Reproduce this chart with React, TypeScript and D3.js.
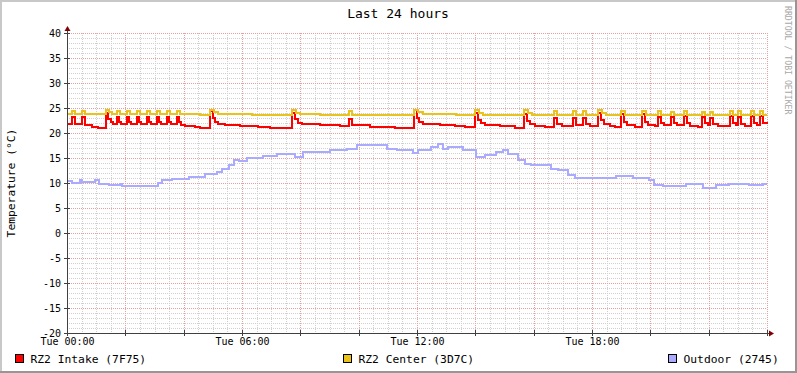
import React, { useEffect, useRef } from "react";
import * as d3 from "d3";

// step breakpoints: [minutes since Tue 00:00, °C]
const intake: [number, number][] = [
  [0, 21.8], [10, 23.2], [16, 21.8], [31, 23.2], [37, 21.6], [51, 21.3], [64, 21.1], [76, 21.0],
  [80, 24.0], [84, 22.8], [91, 22.2], [95, 21.9],
  [103, 23.2], [107, 22.2], [111, 21.8], [123, 23.2], [127, 22.2], [131, 21.8],
  [144, 23.2], [148, 22.2], [152, 21.8], [165, 23.2], [169, 22.2], [173, 21.8],
  [185, 23.2], [189, 22.2], [193, 21.8], [206, 23.2], [210, 22.2], [214, 21.8],
  [226, 23.2], [230, 22.2], [234, 21.6], [243, 21.4], [263, 21.2], [274, 21.0],
  [294, 24.4], [300, 23.0], [304, 22.2], [311, 21.8], [325, 21.6], [356, 21.4], [393, 21.2], [418, 21.0],
  [463, 24.0], [469, 22.8], [475, 22.0], [483, 21.8], [520, 21.6], [562, 21.4],
  [580, 22.8], [586, 21.6], [623, 21.3], [675, 21.1], [695, 21.0],
  [714, 24.6], [720, 23.0], [724, 22.2], [732, 21.8], [767, 21.6], [798, 21.4], [819, 21.2],
  [839, 24.0], [846, 22.6], [852, 22.0], [860, 21.7], [891, 21.4], [922, 21.1],
  [940, 23.8], [946, 22.4], [952, 21.8], [963, 21.4], [983, 21.2],
  [1002, 23.0], [1008, 21.8], [1018, 21.4], [1041, 23.0], [1047, 21.6],
  [1061, 23.0], [1068, 21.8], [1076, 21.4],
  [1092, 24.0], [1098, 22.6], [1105, 21.8], [1117, 21.4], [1127, 21.2],
  [1140, 23.8], [1146, 22.2], [1152, 21.6], [1169, 21.3],
  [1183, 23.8], [1189, 22.2], [1195, 21.6], [1210, 21.4],
  [1216, 23.2], [1222, 22.0], [1228, 21.6], [1242, 23.2], [1248, 22.0], [1255, 21.6],
  [1269, 23.4], [1275, 22.0], [1281, 21.4], [1298, 21.2],
  [1306, 23.2], [1312, 22.0], [1319, 21.6], [1323, 23.0], [1329, 21.8], [1339, 21.4],
  [1364, 23.4], [1370, 22.0], [1376, 21.6], [1380, 23.2], [1386, 21.8], [1395, 21.4],
  [1407, 23.4], [1413, 22.0], [1419, 21.6], [1426, 23.4], [1432, 22.0], [1440, 21.8],
];

const center: [number, number][] = [
  [0, 23.8], [10, 24.5], [16, 23.8], [31, 24.5], [37, 23.8], [80, 24.6], [86, 24.2], [93, 23.8],
  [103, 24.4], [109, 23.8], [123, 24.4], [129, 23.8], [144, 24.4], [150, 23.8],
  [165, 24.4], [171, 23.8], [185, 24.4], [191, 23.8], [206, 24.4], [212, 23.8],
  [226, 24.4], [232, 23.8], [274, 23.7], [294, 24.6], [302, 24.2], [311, 23.8],
  [380, 23.7], [463, 24.6], [471, 24.1], [479, 23.8], [520, 23.6], [580, 24.4], [586, 23.6],
  [714, 24.6], [722, 24.2], [732, 23.8], [800, 23.6], [839, 24.6], [848, 24.0], [856, 23.7],
  [940, 24.6], [948, 24.0], [956, 23.6], [1002, 24.4], [1008, 23.6], [1041, 24.4], [1047, 23.6],
  [1061, 24.4], [1067, 23.6], [1092, 24.6], [1100, 24.0], [1108, 23.6], [1140, 24.4], [1148, 23.6],
  [1183, 24.4], [1191, 23.6], [1216, 24.4], [1222, 23.6], [1242, 24.2], [1248, 23.6],
  [1269, 24.4], [1275, 23.6], [1306, 24.2], [1312, 23.6], [1323, 24.2], [1329, 23.6],
  [1364, 24.4], [1370, 23.6], [1380, 24.4], [1386, 23.6], [1407, 24.4], [1413, 23.6],
  [1426, 24.4], [1432, 23.7], [1440, 23.7],
];

const outdoor: [number, number][] = [
  [0, 10.4], [10, 10.1], [27, 10.6], [31, 10.2], [58, 10.6], [66, 9.9], [86, 9.6], [109, 9.9],
  [113, 9.5], [187, 10.1], [195, 10.6], [216, 10.9], [251, 11.3], [284, 11.8], [309, 12.3],
  [319, 12.9], [333, 13.6], [344, 14.7], [354, 14.5], [370, 15.1], [403, 15.4], [432, 15.9],
  [469, 15.3], [485, 16.3], [541, 16.6], [576, 16.9], [597, 17.6], [658, 16.9], [679, 16.6],
  [712, 16.1], [722, 16.6], [749, 17.3], [763, 17.8], [773, 16.9], [784, 17.3], [815, 16.6],
  [841, 15.3], [860, 15.6], [882, 16.3], [897, 16.7], [907, 15.9], [928, 14.6], [942, 13.9],
  [954, 13.6], [996, 12.9], [1010, 12.6], [1031, 11.6], [1045, 11.1], [1129, 11.4], [1164, 11.1],
  [1197, 10.7], [1207, 9.6], [1226, 9.4], [1273, 9.8], [1308, 9.1], [1335, 9.6], [1362, 9.9],
  [1403, 9.6], [1432, 9.9], [1440, 9.9],
];

const yTicks = [-20, -15, -10, -5, 0, 5, 10, 15, 20, 25, 30, 35, 40];
const xTickMinutes = [0, 360, 720, 1080];
const xTickLabels = ["Tue 00:00", "Tue 06:00", "Tue 12:00", "Tue 18:00"];
const seriesNames = ["RZ2 Intake (7F75)", "RZ2 Center (3D7C)", "Outdoor (2745)"];
const seriesColors = ["#ff0000", "#eac21c", "#aaaaff"];

const W = 797;
const H = 373;
const MONO = "'DejaVu Sans Mono', monospace";

function App() {
  const ref = useRef<SVGSVGElement>(null);

  useEffect(() => {
    const svg = d3.select(ref.current);
    svg.selectAll("*").remove();

    const x = d3.scaleLinear().domain([0, 1440]).range([67, 767]);
    const y = d3.scaleLinear().domain([-20, 40]).range([333, 33]);

    // background + 3d frame
    svg.append("rect").attr("width", W).attr("height", H).attr("fill", "#ffffff");
    svg.append("path").attr("d", `M0,${H} V0 H${W}`).attr("stroke", "#c8c8c8").attr("stroke-width", 4).attr("fill", "none");
    svg.append("path").attr("d", `M0,${H} H${W} V0`).attr("stroke", "#969696").attr("stroke-width", 4).attr("fill", "none");

    const grid = svg.append("g").attr("shape-rendering", "crispEdges").attr("stroke-dasharray", "1,1");

    // minor grid: 1 deg, 30 min
    for (let v = -20; v <= 40; v += 1) {
      if (v % 5 === 0) continue;
      grid.append("line").attr("x1", 67).attr("x2", 767).attr("y1", y(v) + 0.5).attr("y2", y(v) + 0.5)
        .attr("stroke", "#d0d0d0");
    }
    for (let m = 30; m <= 1440; m += 30) {
      if (m % 120 === 0) continue;
      grid.append("line").attr("x1", x(m) + 0.5).attr("x2", x(m) + 0.5).attr("y1", 33).attr("y2", 333)
        .attr("stroke", "#d0d0d0");
    }
    // major grid: 5 deg, 2 h
    yTicks.forEach(v => {
      if (v === -20) return;
      grid.append("line").attr("x1", 67).attr("x2", 767).attr("y1", y(v) + 0.5).attr("y2", y(v) + 0.5)
        .attr("stroke", "#e6a0a0");
    });
    for (let m = 120; m <= 1440; m += 120) {
      grid.append("line").attr("x1", x(m) + 0.5).attr("x2", x(m) + 0.5).attr("y1", 33).attr("y2", 333)
        .attr("stroke", "#e6a0a0");
    }

    // data lines
    const line = d3.line<[number, number]>()
      .x(d => x(d[0]))
      .y(d => y(d[1]))
      .curve(d3.curveStepAfter);

    [intake, center, outdoor].forEach((s, i) => {
      svg.append("path")
        .attr("d", line(s))
        .attr("fill", "none")
        .attr("stroke", seriesColors[i])
        .attr("stroke-width", 2)
        .attr("shape-rendering", "crispEdges");
    });

    // axes
    const axis = svg.append("g").attr("shape-rendering", "crispEdges");
    axis.append("line").attr("x1", 64).attr("x2", 770).attr("y1", 333.5).attr("y2", 333.5).attr("stroke", "#404040");
    axis.append("line").attr("x1", 67.5).attr("x2", 67.5).attr("y1", 336).attr("y2", 30).attr("stroke", "#404040");
    yTicks.forEach(v => {
      axis.append("line").attr("x1", 64).attr("x2", 70).attr("y1", y(v) + 0.5).attr("y2", y(v) + 0.5).attr("stroke", "#404040");
    });
    for (let m = 0; m <= 1440; m += 120) {
      axis.append("line").attr("x1", x(m) + 0.5).attr("x2", x(m) + 0.5).attr("y1", 330).attr("y2", 336).attr("stroke", "#404040");
    }
    svg.append("path").attr("d", "M64.5,31 L67.5,26 L70.5,31 Z").attr("fill", "#800000");
    svg.append("path").attr("d", "M769,330.5 L774,333.5 L769,336.5 Z").attr("fill", "#800000");

    // labels
    svg.append("text").attr("x", 398).attr("y", 18).attr("text-anchor", "middle")
      .attr("font-family", MONO).attr("font-size", 13).attr("fill", "#000").text("Last 24 hours");

    yTicks.forEach(v => {
      svg.append("text").attr("x", 61).attr("y", y(v)).attr("dy", "0.35em").attr("text-anchor", "end")
        .attr("font-family", MONO).attr("font-size", 10).attr("fill", "#000").text(String(v));
    });
    xTickMinutes.forEach((m, i) => {
      svg.append("text").attr("x", x(m) + 0.5).attr("y", 345).attr("text-anchor", "middle")
        .attr("font-family", MONO).attr("font-size", 10).attr("fill", "#000").text(xTickLabels[i]);
    });

    svg.append("text").attr("transform", "translate(14.5,183) rotate(-90)").attr("text-anchor", "middle")
      .attr("font-family", MONO).attr("font-size", 11.3).attr("fill", "#000").text("Temperature (°C)");

    svg.append("text").attr("transform", "translate(785,6) rotate(90)").attr("text-anchor", "start")
      .attr("font-family", MONO).attr("font-size", 8.2).attr("fill", "#a8a8a8").text("RRDTOOL / TOBI OETIKER");

    // legend
    const legendX = [15.5, 343.5, 668.5];
    seriesNames.forEach((name, i) => {
      svg.append("rect").attr("x", legendX[i]).attr("y", 354.5).attr("width", 8).attr("height", 8)
        .attr("fill", seriesColors[i]).attr("stroke", "#000").attr("stroke-width", 1);
      svg.append("text").attr("x", legendX[i] + 15).attr("y", 363)
        .attr("font-family", MONO).attr("font-size", 11.3).attr("fill", "#000").text(name);
    });
  }, []);

  return (
    <div style={{ position: "absolute", left: 0, top: 0 }}>
      <svg ref={ref} width={W} height={H} style={{ display: "block" }} />
    </div>
  );
}

export default App;
